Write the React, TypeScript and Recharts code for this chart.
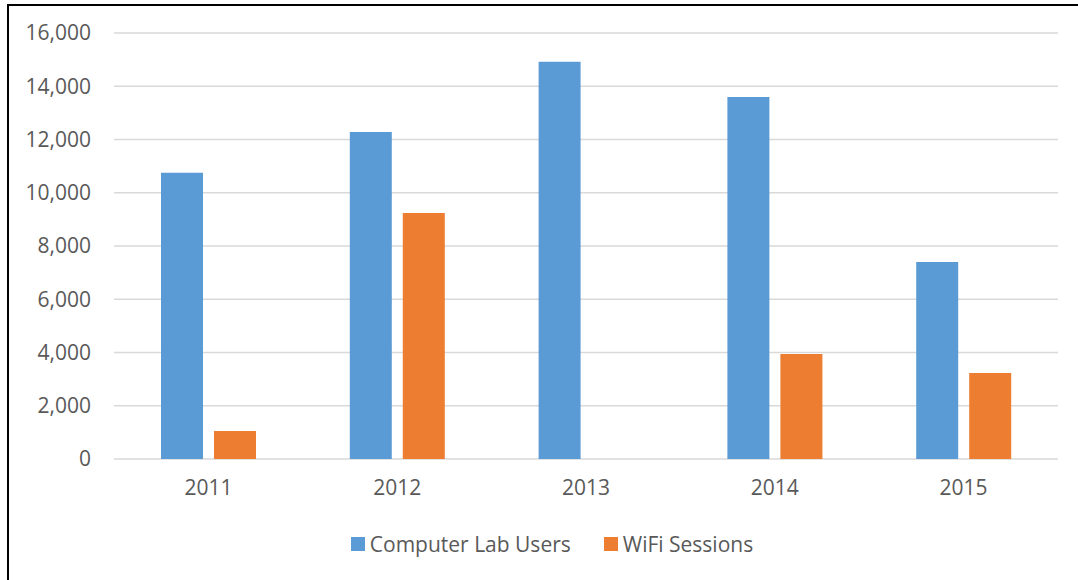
import { BarChart, Bar, XAxis, YAxis, CartesianGrid } from "recharts";

const years = ["2011", "2012", "2013", "2014", "2015"];
const labUsers = [10750, 12280, 14920, 13600, 7400];
const wifiSessions = [1050, 9240, 0, 3940, 3230];
const yTicks = [0, 2000, 4000, 6000, 8000, 10000, 12000, 14000, 16000];

const data = years.map((year, i) => ({
  year,
  lab: labUsers[i],
  wifi: wifiSessions[i],
}));

const BLUE = "#5B9BD5";
const ORANGE = "#ED7D31";
const TEXT = "#595959";
const FONT = "'Open Sans', sans-serif";

const legendItems = [
  { name: "Computer Lab Users", color: BLUE },
  { name: "WiFi Sessions", color: ORANGE },
];

function ChartLegend() {
  return (
    <div
      style={{
        position: "absolute",
        left: 0,
        top: 530,
        width: 1104,
        display: "flex",
        justifyContent: "center",
        alignItems: "center",
        gap: 33,
        fontFamily: FONT,
        fontSize: 21,
        color: TEXT,
      }}
    >
      {legendItems.map((item) => (
        <div key={item.name} style={{ display: "flex", alignItems: "center" }}>
          <span
            style={{
              display: "inline-block",
              width: 14,
              height: 14,
              background: item.color,
              marginRight: 5,
            }}
          />
          <span>{item.name}</span>
        </div>
      ))}
    </div>
  );
}

export default function App() {
  return (
    <div
      style={{
        position: "absolute",
        left: 0,
        top: 0,
        width: 1078,
        height: 580,
        background: "#fff",
        overflow: "hidden",
      }}
    >
      <div
        style={{
          position: "absolute",
          left: 7,
          top: 4,
          right: 0,
          bottom: 0,
          borderLeft: "2px solid #000",
          borderTop: "2px solid #000",
        }}
      />
      <div style={{ position: "absolute", left: 0, top: 0 }}>
        <BarChart
          width={1078}
          height={580}
          data={data}
          margin={{ top: 33, right: 20, bottom: 91, left: 14 }}
          barSize={42}
          barGap={11}
        >
          <CartesianGrid vertical={false} stroke="#d9d9d9" strokeWidth={1.5} />
          <XAxis
            dataKey="year"
            height={30}
            axisLine={false}
            tickLine={false}
            tickSize={0}
            tickMargin={21}
            tick={{ fill: TEXT, fontSize: 21, fontFamily: FONT }}
          />
          <YAxis
            width={100}
            domain={[0, 16000]}
            ticks={yTicks}
            axisLine={false}
            tickLine={false}
            tickSize={0}
            tickMargin={23}
            tickFormatter={(v: number) => v.toLocaleString("en-US")}
            tick={{ fill: TEXT, fontSize: 21, fontFamily: FONT }}
          />
          <Bar dataKey="lab" name="Computer Lab Users" fill={BLUE} isAnimationActive={false} />
          <Bar dataKey="wifi" name="WiFi Sessions" fill={ORANGE} isAnimationActive={false} />
        </BarChart>
      </div>
      <ChartLegend />
    </div>
  );
}
